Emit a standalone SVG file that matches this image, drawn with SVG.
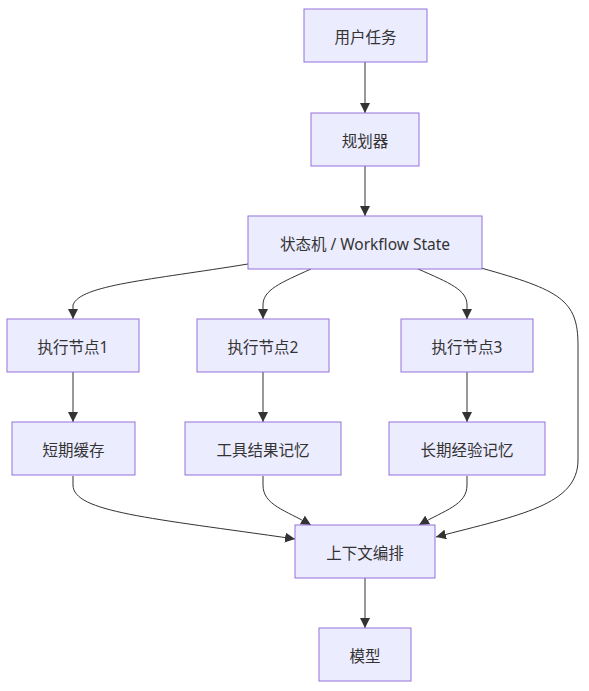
<svg xmlns="http://www.w3.org/2000/svg" width="589" height="691" viewBox="0 0 589 691">
<style>
.node rect{fill:#ECECFF;stroke:#9370DB;stroke-width:1}
.node text{font-family:"Noto Sans","Noto Sans CJK SC",sans-serif;font-size:15.5px;fill:#333;text-anchor:middle;dominant-baseline:central}
.edges path{fill:none;stroke:#333;stroke-width:1;marker-end:url(#arr)}
</style>
<defs>
<marker id="arr" viewBox="0 0 10 10" refX="10" refY="5" markerWidth="10" markerHeight="10" markerUnits="userSpaceOnUse" orient="auto">
<path d="M0,0 L10,5 L0,10 z" fill="#333"/>
</marker>
</defs>
<rect width="589" height="691" fill="#fff"/>
<g class="edges">
<path d="M365,62 L365,113"/>
<path d="M365,166 L365,216"/>
<path d="M248,264 C150,280 80,285 73,305 L73,319"/>
<path d="M311,269 C280,283 263,290 263,305 L263,319"/>
<path d="M418,269 C450,283 467,290 467,305 L467,319"/>
<path d="M481,268 C560,290 578,300 578,345 L578,460 C578,505 520,515 436,537"/>
<path d="M73,372 L73,422"/>
<path d="M263,372 L263,422"/>
<path d="M467,372 L467,422"/>
<path d="M73,476 L73,485 C73,512 150,518 295,539"/>
<path d="M263,476 L263,485 C263,505 285,510 311,525"/>
<path d="M467,476 L467,485 C467,505 445,510 419,525"/>
<path d="M365,578 L365,628"/>
</g>
<g id="n1" class="node"><rect x="304" y="9" width="123" height="53"/><text x="365.5" y="36.5">用户任务</text></g>
<g id="n2" class="node"><rect x="311" y="113" width="108" height="53"/><text x="365" y="140.5">规划器</text></g>
<g id="n3" class="node"><rect x="248" y="216" width="234" height="53"/><text x="365" y="243.5">状态机 / Workflow State</text></g>
<g id="n4" class="node"><rect x="7" y="319" width="132" height="53"/><text x="73" y="346.5">执行节点1</text></g>
<g id="n5" class="node"><rect x="197" y="319" width="132" height="53"/><text x="263" y="346.5">执行节点2</text></g>
<g id="n6" class="node"><rect x="401" y="319" width="132" height="53"/><text x="467" y="346.5">执行节点3</text></g>
<g id="n7" class="node"><rect x="12" y="422" width="123" height="53"/><text x="73.5" y="449.5">短期缓存</text></g>
<g id="n8" class="node"><rect x="185" y="422" width="156" height="53"/><text x="263" y="449.5">工具结果记忆</text></g>
<g id="n9" class="node"><rect x="389" y="422" width="156" height="53"/><text x="467" y="449.5">长期经验记忆</text></g>
<g id="n10" class="node"><rect x="295" y="525" width="140" height="53"/><text x="365" y="552.5">上下文编排</text></g>
<g id="n11" class="node"><rect x="319" y="628" width="92" height="53"/><text x="365" y="655.5">模型</text></g>
</svg>
